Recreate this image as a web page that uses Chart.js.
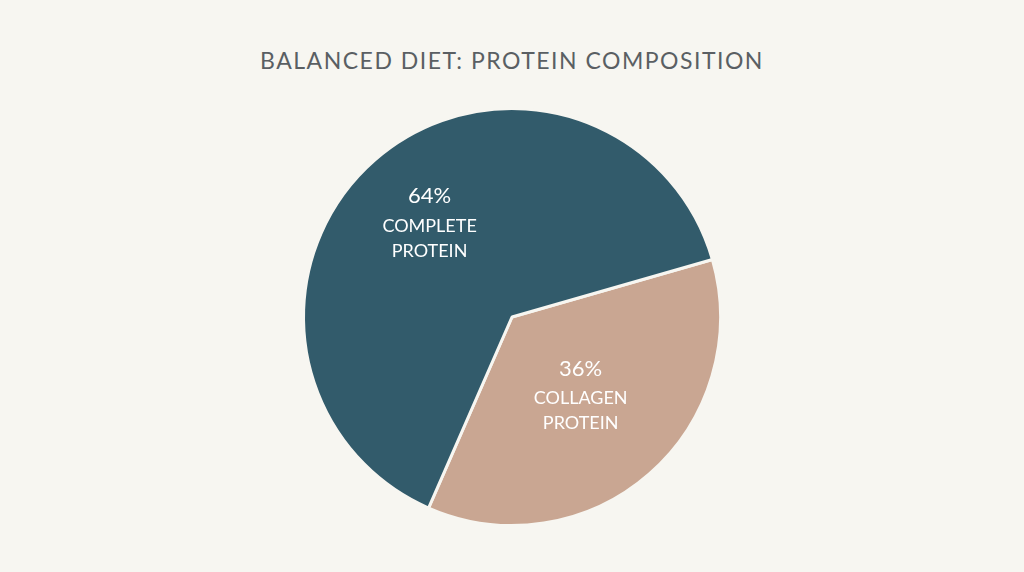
<!DOCTYPE html>
<html>
<head>
<meta charset="utf-8">
<script src="https://cdn.jsdelivr.net/npm/chart.js@4"></script>
<style>
  html, body { margin: 0; padding: 0; background: #f7f6f1; }
  #wrap { position: relative; width: 1024px; height: 572px; }
  h1 { position: absolute; top: 46px; left: 0; width: 1024px; margin: 0; text-align: center;
       font-family: Lato, sans-serif; font-weight: 400; font-size: 23px; letter-spacing: 1.5px; color: #5a5f63; }
  #pieBox { position: absolute; left: 296px; top: 101px; width: 432px; height: 432px; }
</style>
</head>
<body>
<div id="wrap">
  <h1>BALANCED DIET: PROTEIN COMPOSITION</h1>
  <div id="pieBox"><canvas id="pie"></canvas></div>
</div>
<script>
const categories = ['COLLAGEN\nPROTEIN', 'COMPLETE\nPROTEIN'];
const shares = [36, 64];
const sliceColors = ['#c9a692', '#325b6b'];
const labelRadius = [0.5, 0.6];

// draw the percent + name inside each slice
const sliceLabels = {
    id: 'sliceLabels',
    afterDatasetsDraw(chart) {
        const ctx = chart.ctx;
        const meta = chart.getDatasetMeta(0);
        meta.data.forEach((arc, i) => {
            const mid = (arc.startAngle + arc.endAngle) / 2;
            const r = arc.outerRadius * labelRadius[i];
            const x = arc.x + Math.cos(mid) * r;
            const y = arc.y + Math.sin(mid) * r;
            ctx.save();
            ctx.fillStyle = '#ffffff';
            ctx.textAlign = 'center';
            ctx.textBaseline = 'middle';
            ctx.font = '22px Lato, sans-serif';
            ctx.fillText(shares[i] + '%', x, y - 27);
            ctx.font = '18px Lato, sans-serif';
            const lines = categories[i].split('\n');
            lines.forEach((ln, j) => ctx.fillText(ln, x, y + 3 + j * 25));
            ctx.restore();
        });
    }
};

new Chart(document.getElementById('pie'), {
    type: 'pie',
    data: {
        labels: categories.map(c => c.replace('\n', ' ')),
        datasets: [{
            data: shares,
            backgroundColor: sliceColors,
            borderColor: '#f7f6f1',
            borderWidth: 3
        }]
    },
    options: {
        responsive: true,
        maintainAspectRatio: false,
        animation: false,
        rotation: 74,
        layout: { padding: 6 },
        plugins: {
            legend: { display: false },
            tooltip: { enabled: false }
        }
    },
    plugins: [sliceLabels]
});
</script>
</body>
</html>
